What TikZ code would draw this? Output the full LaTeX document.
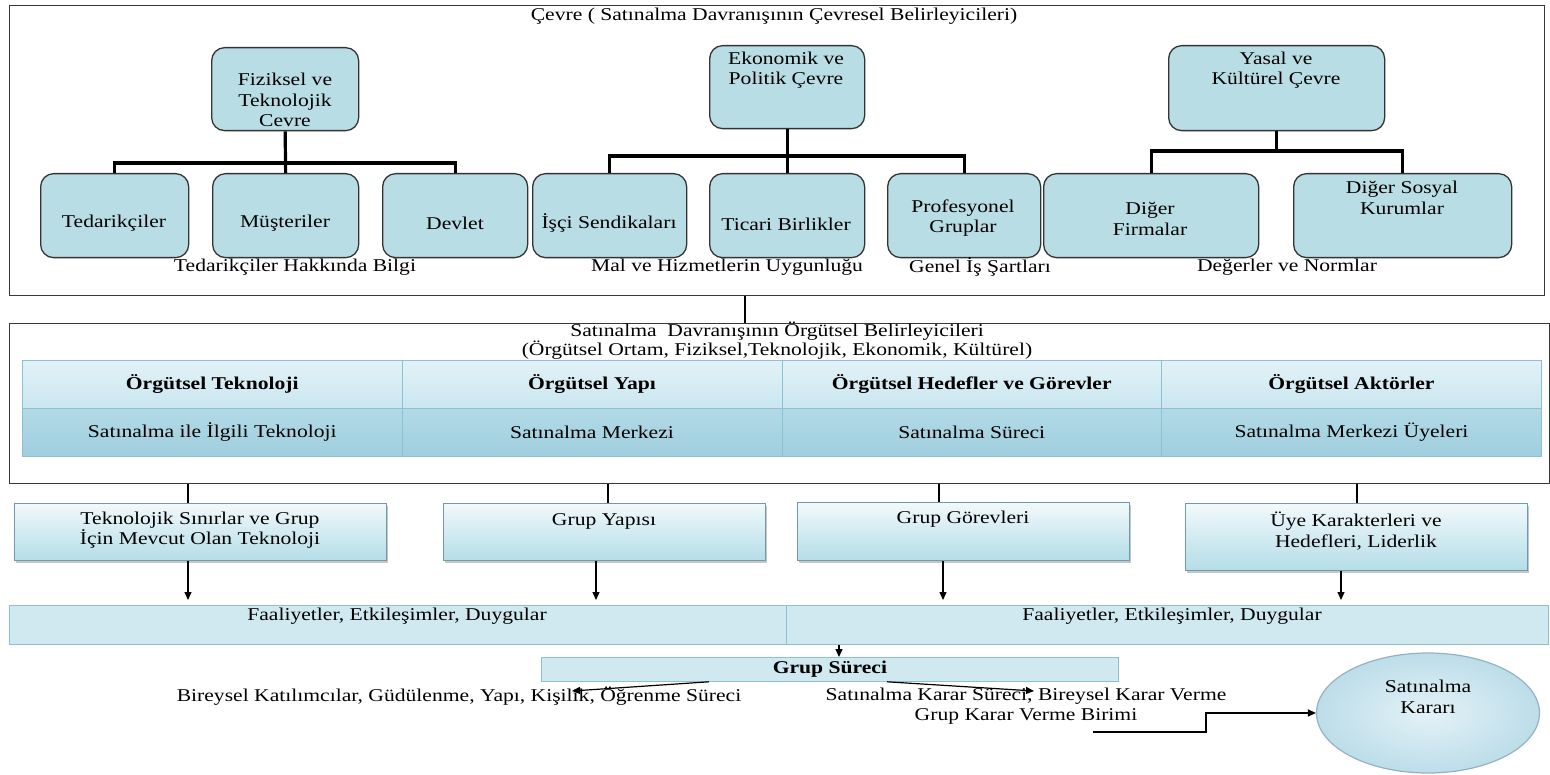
\documentclass[tikz,border=0pt]{standalone}
\usepackage{fontspec}
\setmainfont{Liberation Serif}[FakeStretch=1.2]
\usetikzlibrary{shapes.geometric,shadows,arrows.meta}

\definecolor{tealbox}{RGB}{184,221,228}
\definecolor{cellline}{RGB}{140,193,212}
\definecolor{headtop}{RGB}{226,242,247}
\definecolor{headbot}{RGB}{202,230,240}
\definecolor{bodytop}{RGB}{178,218,230}
\definecolor{bodybot}{RGB}{160,206,222}
\definecolor{grptop}{RGB}{242,249,251}
\definecolor{grpbot}{RGB}{180,221,232}
\definecolor{barfill}{RGB}{208,233,241}
\definecolor{ovalin}{RGB}{228,242,247}
\definecolor{ovalout}{RGB}{188,221,233}
\definecolor{ovaledge}{RGB}{150,178,194}

\begin{document}
\begin{tikzpicture}[x=1pt,y=-1pt,
  font=\fontsize{18}{20.5}\selectfont,
  frame/.style={draw=black!78, line width=1.3pt, inner sep=0pt, anchor=north west},
  rbox/.style={draw=black!80, line width=1.3pt, rounded corners=13pt, fill=tealbox,
    inner sep=0pt, anchor=north west, minimum height=84pt},
  txt/.style={align=center, inner sep=0pt},
  tree/.style={line width=3.2pt},
  link/.style={line width=1.2pt},
  arr/.style={line width=1.2pt, -{Triangle[length=8pt,width=7pt]}},
  headcell/.style={draw=cellline, line width=0.7pt, top color=headtop, bottom color=headbot,
    inner sep=0pt, anchor=north west, minimum width=379.75pt, minimum height=48pt,
    font=\fontsize{18}{20.5}\selectfont\bfseries},
  bodycell/.style={draw=cellline, line width=0.7pt, top color=bodytop, bottom color=bodybot,
    inner sep=0pt, anchor=north west, minimum width=379.75pt, minimum height=48pt},
  grpbox/.style={draw=cellline!80!black, line width=0.8pt, top color=grptop, bottom color=grpbot,
    inner sep=0pt, anchor=north west,
    drop shadow={shadow xshift=1.5pt, shadow yshift=-2.5pt, opacity=0.45}},
  barcell/.style={draw=cellline, line width=0.8pt, fill=barfill, inner sep=0pt, anchor=north west,
    minimum height=39pt}
]
\useasboundingbox (0,0) rectangle (1550,775);

% ---------- environmental determinants ----------
\node[frame, minimum width=1535pt, minimum height=290pt] (env) at (9,5) {};
\node[txt] (envT) at (774,16) {Çevre ( Satınalma Davranışının Çevresel Belirleyicileri)};

\node[rbox, minimum width=147pt, minimum height=83pt] (fiz) at (211,47) {};
\node[rbox, minimum width=155pt, minimum height=83pt] (eko) at (709,45) {};
\node[rbox, minimum width=216pt, minimum height=85pt] (yas) at (1168,45) {};
\node[txt] (fizT) at (285,100) {Fiziksel ve\\Teknolojik\\Cevre};
\node[txt] (ekoT) at (786,70) {Ekonomik ve\\Politik Çevre};
\node[txt] (yasT) at (1276,70) {Yasal ve\\Kültürel Çevre};

\node[rbox, minimum width=148pt] (ted) at (40,173) {};
\node[rbox, minimum width=146pt] (mus) at (212,173) {};
\node[rbox, minimum width=145pt] (dev) at (382,173) {};
\node[rbox, minimum width=154pt] (isc) at (532,173) {};
\node[rbox, minimum width=155pt] (tic) at (709,173) {};
\node[rbox, minimum width=153pt] (pro) at (887,173) {};
\node[rbox, minimum width=215pt] (dif) at (1043,173) {};
\node[rbox, minimum width=218pt] (dso) at (1293,173) {};
\node[txt] (tedT) at (114,223) {Tedarikçiler};
\node[txt] (musT) at (285,223) {Müşteriler};
\node[txt] (devT) at (455,223) {Devlet};
\node[txt] (iscT) at (609,223) {İşçi Sendikaları};
\node[txt] (ticT) at (786,224) {Ticari Birlikler};
\node[txt] (proT) at (963,218) {Profesyonel\\Gruplar};
\node[txt] (difT) at (1150,219) {Diğer\\Firmalar};
\node[txt] (dsoT) at (1402,198) {Diğer Sosyal\\Kurumlar};

% tree connectors
\draw[tree] (fiz.south) -- (mus.north);
\draw[tree] (ted.north) -- ++(0,-10) -| (dev.north);
\draw[tree] (eko.south) -- (tic.north);
\draw[tree] (isc.north) -- ++(0,-17) -| (pro.north);
\draw[tree] (yas.south) -- ++(0,21);
\draw[tree] (dif.north) -- ++(0,-22) -| (dso.north);

\node[txt] (lab1) at (295,267) {Tedarikçiler Hakkında Bilgi};
\node[txt] (lab2) at (727,267) {Mal ve Hizmetlerin Uygunluğu};
\node[txt] (lab3) at (980,267) {Genel İş Şartları};
\node[txt] (lab4) at (1287,267) {Değerler ve Normlar};

% ---------- organisational determinants ----------
\node[frame, minimum width=1540pt, minimum height=160pt] (org) at (9,323) {};
\coordinate (mid) at (745,300);
\draw[link] (env.south -| mid) -- (org.north -| mid);
\node[txt, font=\fontsize{18}{19}\selectfont] (orgT) at (777,341)
  {Satınalma\ \ Davranışının Örgütsel Belirleyicileri\\(Örgütsel Ortam, Fiziksel,Teknolojik, Ekonomik, Kültürel)};

\node[headcell] (h1) at (22,360) {Örgütsel Teknoloji};
\node[headcell] (h2) at (401.75,360) {Örgütsel Yapı};
\node[headcell] (h3) at (781.5,360) {Örgütsel Hedefler ve Görevler};
\node[headcell] (h4) at (1161.25,360) {Örgütsel Aktörler};
\node[bodycell] (s1) at (22,408) {Satınalma ile İlgili Teknoloji};
\node[bodycell] (s2) at (401.75,408) {Satınalma Merkezi};
\node[bodycell] (s3) at (781.5,408) {Satınalma Süreci};
\node[bodycell] (s4) at (1161.25,408) {Satınalma Merkezi Üyeleri};

% ---------- group level ----------
\node[grpbox, minimum width=372pt, minimum height=57pt] (g1) at (14,503) {};
\node[grpbox, minimum width=322pt, minimum height=57pt] (g2) at (443,503) {};
\node[grpbox, minimum width=332pt, minimum height=58pt] (g3) at (797,502) {};
\node[grpbox, minimum width=342pt, minimum height=67pt] (g4) at (1185,503) {};
\node[txt, font=\fontsize{18}{18.5}\selectfont] (g1T) at (200,530) {Teknolojik Sınırlar ve Grup\\İçin Mevcut Olan Teknoloji};
\node[txt] (g2T) at (604,521) {Grup Yapısı};
\node[txt] (g3T) at (963,519) {Grup Görevleri};
\node[txt] (g4T) at (1356,531) {Üye Karakterleri ve\\Hedefleri, Liderlik};

\coordinate (d1) at (188,0);
\coordinate (d2) at (608,0);
\coordinate (d3) at (939,0);
\coordinate (d4) at (1357,0);
\draw[link] (org.south -| d1) -- (g1.north -| d1);
\draw[link] (org.south -| d2) -- (g2.north -| d2);
\draw[link] (org.south -| d3) -- (g3.north -| d3);
\draw[link] (org.south -| d4) -- (g4.north -| d4);

\node[barcell, minimum width=777pt] (fa1) at (9,605) {};
\node[barcell, minimum width=762pt] (fa2) at (786,605) {};
\node[txt] (fa1T) at (397,616) {Faaliyetler, Etkileşimler, Duygular};
\node[txt] (fa2T) at (1172,616) {Faaliyetler, Etkileşimler, Duygular};

\coordinate (a1) at (188,0);
\coordinate (a2) at (596,0);
\coordinate (a3) at (943,0);
\coordinate (a4) at (1341,0);
\coordinate (barTop) at (0,600);
\draw[arr] (g1.south -| a1) -- (barTop -| a1);
\draw[arr] (g2.south -| a2) -- (barTop -| a2);
\draw[arr] (g3.south -| a3) -- (barTop -| a3);
\draw[arr] (g4.south -| a4) -- (barTop -| a4);

\node[draw=cellline, line width=0.8pt, fill=barfill, inner sep=0pt, anchor=north west,
  minimum width=577pt, minimum height=24pt, font=\fontsize{18}{20.5}\selectfont\bfseries]
  (gs) at (541,657) {Grup Süreci};
\coordinate (gsIn) at (839,0);
\draw[arr] (fa2.south -| gsIn) -- (gs.north -| gsIn);

\node[txt] (bireyT) at (459,696) {Bireysel Katılımcılar, Güdülenme, Yapı, Kişilik, Öğrenme Süreci};
\node[txt] (kararT) at (1026,706) {Satınalma Karar Süreci, Bireysel Karar Verme\\Grup Karar Verme Birimi};

\coordinate (lFrom) at (709,0);
\coordinate (lTo) at (572,691);
\coordinate (rFrom) at (887,0);
\coordinate (rTo) at (1034,691);
\draw[arr] (gs.south -| lFrom) -- (lTo);
\draw[arr] (gs.south -| rFrom) -- (rTo);

% ---------- decision ----------
\node[ellipse, draw=ovaledge, line width=1.2pt, minimum width=223pt, minimum height=120pt,
  inner color=ovalin, outer color=ovalout] (karar) at (1428,713) {};
\node[txt] (kararT2) at (1428,697) {Satınalma\\Kararı};
\coordinate (elb) at (1093,732);
\draw[arr] (elb) -- ++(113,0) |- (karar.west);

\end{tikzpicture}
\end{document}
